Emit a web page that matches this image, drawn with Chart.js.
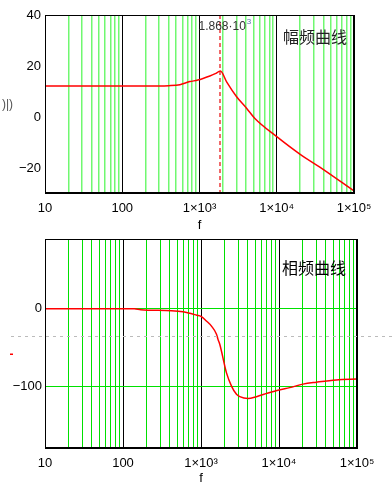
<!DOCTYPE html>
<html>
<head>
<meta charset="utf-8">
<script src="https://cdn.jsdelivr.net/npm/chart.js@4.4.1/dist/chart.umd.min.js"></script>
<style>
  body { margin: 0; background: #fff; }
  .box { position: absolute; left: 0; }
</style>
</head>
<body>
<div class="box" style="top:0"><canvas id="magChart" width="392" height="235"></canvas></div>
<div class="box" style="top:235px"><canvas id="phaseChart" width="392" height="253"></canvas></div>
<script>
// frequency axis (shared)
const decades = [10, 100, 1000, 10000, 100000];
const decadeLabels = ['10', '100', '1×10³', '1×10⁴', '1×10⁵'];

// amplitude curve
const magFreq = [10, 100, 300, 400, 557, 751, 952, 1361, 1600, 1868, 2244, 3022, 4065, 5212, 10000, 19900, 36100, 100000];
const magDb = [12.3, 12.3, 12.3, 12.4, 12.8, 14.0, 14.6, 16.2, 17.1, 18.1, 13.9, 8.1, 3.6, -0.4, -7.5, -14.3, -19.4, -28.7];
const magTicks = [-20, 0, 20, 40];
const peakFreq = 1868;

// phase curve
const phaseFreq = [10, 140, 169, 419, 590, 719, 884, 1000, 1175, 1362, 1580, 1656, 1740, 2122, 2460, 2851, 3142, 4012, 5130, 7230, 10000, 13700, 20300, 30100, 54300, 100000];
const phaseDeg = [0, 0, -1.3, -2.6, -4, -6, -8.5, -10, -16, -22.5, -33, -40, -46, -83, -100, -110.7, -113.7, -116, -113.7, -109, -105, -102, -97.5, -95, -92, -91];
const phaseTicks = [-100, 0];
const phaseMarker = -35;

const FONT = 'Liberation Sans, Arial, sans-serif';

function freqTicks() {
    const vals = [];
    for (let i = 0; i < decades.length - 1; i++) {
        for (let m = 1; m < 10; m++) vals.push(decades[i] * m);
    }
    vals.push(decades[decades.length - 1]);
    return vals.map(v => ({ value: v }));
}

function isDecade(v) {
    return decades.some(d => Math.abs(d - v) < 1e-6);
}

function label(v) {
    return v < 0 ? '−' + Math.abs(v) : String(v);
}

function freqAxis(minorColor, minorWidth, height, labelPad) {
    return {
        type: 'logarithmic',
        min: decades[0],
        max: decades[decades.length - 1],
        afterBuildTicks: s => { s.ticks = freqTicks(); },
        afterFit: s => { s.height = height; },
        ticks: {
            autoSkip: false,
            maxRotation: 0,
            padding: labelPad,
            color: '#000',
            font: { family: FONT, size: 13 },
            callback: v => {
                const i = decades.findIndex(d => Math.abs(d - v) < 1e-6);
                return i >= 0 ? decadeLabels[i] : '';
            },
        },
        grid: {
            drawTicks: false,
            color: c => (c.tick && isDecade(c.tick.value) ? '#000' : minorColor),
            lineWidth: c => (c.tick && isDecade(c.tick.value) ? 1 : minorWidth),
        },
        border: { color: '#000' },
        title: {
            display: true,
            text: 'f',
            color: '#000',
            padding: { top: 0, bottom: 2 },
            font: { family: FONT, size: 13 },
        },
    };
}

function valueAxis(min, max, ticks, gridOpts, pad) {
    return {
        min: min,
        max: max,
        afterBuildTicks: s => { s.ticks = ticks.map(v => ({ value: v })); },
        afterFit: s => { s.width = 45; s.paddingTop = 0; s.paddingBottom = 0; },
        ticks: { color: '#000', padding: pad, font: { family: FONT, size: 13 }, callback: v => label(v) },
        grid: gridOpts,
        border: { color: '#000' },
    };
}

function frame(chart) {
    const { ctx, chartArea: a } = chart;
    ctx.save();
    ctx.strokeStyle = '#000';
    ctx.lineWidth = 1;
    ctx.strokeRect(Math.round(a.left) + 0.5, Math.round(a.top) + 0.5,
        Math.round(a.width) - 1, Math.round(a.height) - 1);
    ctx.restore();
}

// Amplitude response
new Chart(document.getElementById('magChart'), {
    type: 'line',
    data: {
        datasets: [{
            data: magFreq.map((f, i) => ({ x: f, y: magDb[i] })),
            borderColor: '#ff0000',
            borderWidth: 1.5,
            pointRadius: 0,
            cubicInterpolationMode: 'monotone',
        }],
    },
    options: {
        responsive: false,
        animation: false,
        layout: { padding: { left: 0, right: 38, top: 15, bottom: 0 } },
        plugins: { legend: { display: false }, tooltip: { enabled: false } },
        scales: {
            x: freqAxis('#70f870', 1.5, 42, 8),
            y: valueAxis(-29.5, 40, magTicks, { drawOnChartArea: false, drawTicks: false }, 4),
        },
    },
    plugins: [{
        id: 'magExtras',
        beforeDatasetsDraw(chart) {
            const { ctx, chartArea: a } = chart;
            const x = Math.round(chart.scales.x.getPixelForValue(peakFreq));
            ctx.save();
            ctx.strokeStyle = '#f06a6a';
            ctx.lineWidth = 2;
            ctx.setLineDash([4, 3]);
            ctx.beginPath();
            ctx.moveTo(x, a.top);
            ctx.lineTo(x, a.bottom);
            ctx.stroke();
            ctx.restore();
        },
        afterDraw(chart) {
            const { ctx, chartArea: a } = chart;
            frame(chart);
            const x = chart.scales.x.getPixelForValue(peakFreq);
            ctx.save();
            ctx.fillStyle = '#333';
            ctx.font = '12px ' + FONT;
            ctx.textBaseline = 'middle';
            ctx.textAlign = 'left';
            ctx.fillText('1.868·10', x - 22, a.top + 12);
            const w = ctx.measureText('1.868·10').width;
            ctx.fillStyle = '#5577aa';
            ctx.font = '8px ' + FONT;
            ctx.fillText('3', x - 22 + w + 1, a.top + 7);
            ctx.fillStyle = '#222';
            ctx.font = '16px "Noto Sans CJK SC"';
            ctx.textAlign = 'right';
            ctx.fillText('幅频曲线', a.right - 7, a.top + 22);
            ctx.fillStyle = '#555';
            ctx.font = '12px ' + FONT;
            ctx.textAlign = 'left';
            ctx.fillText(')|)', 2, 105);
            ctx.restore();
        },
    }],
});

// Phase response
new Chart(document.getElementById('phaseChart'), {
    type: 'line',
    data: {
        datasets: [{
            data: phaseFreq.map((f, i) => ({ x: f, y: phaseDeg[i] })),
            borderColor: '#ff0000',
            borderWidth: 1.5,
            pointRadius: 0,
            cubicInterpolationMode: 'monotone',
        }],
    },
    options: {
        responsive: false,
        animation: false,
        layout: { padding: { left: 0, right: 35, top: 4, bottom: 0 } },
        plugins: { legend: { display: false }, tooltip: { enabled: false } },
        scales: {
            x: freqAxis('#00e000', 1, 40, 8),
            y: valueAxis(-180, 90, phaseTicks, { drawTicks: false, color: '#00e000', lineWidth: 1 }, 3),
        },
    },
    plugins: [{
        id: 'phaseExtras',
        afterDraw(chart) {
            const { ctx, chartArea: a } = chart;
            frame(chart);
            const y = Math.round(chart.scales.y.getPixelForValue(phaseMarker)) + 0.5;
            ctx.save();
            ctx.strokeStyle = '#bbbbbb';
            ctx.lineWidth = 1;
            ctx.setLineDash([3, 4]);
            ctx.beginPath();
            ctx.moveTo(11, y);
            ctx.lineTo(chart.width, y);
            ctx.stroke();
            ctx.fillStyle = '#ff0000';
            ctx.fillRect(10, y + 17, 3, 1.5);
            ctx.fillStyle = '#000';
            ctx.font = '16px "Noto Sans CJK SC"';
            ctx.textAlign = 'right';
            ctx.textBaseline = 'middle';
            ctx.fillText('相频曲线', a.right - 11, a.top + 29);
            ctx.restore();
        },
    }],
});
</script>
</body>
</html>
